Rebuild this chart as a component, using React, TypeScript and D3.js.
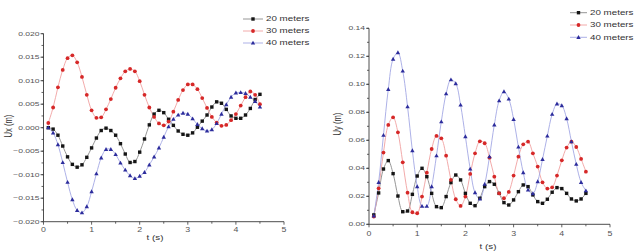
import { useEffect, useRef } from 'react';
import * as d3 from 'd3';

const tVals = [0.1,0.2,0.3,0.4,0.5,0.6,0.7,0.8,0.9,1.0,1.1,1.2,1.3,1.4,1.5,1.6,1.7,1.8,1.9,2.0,2.1,2.2,2.3,2.4,2.5,2.6,2.7,2.8,2.9,3.0,3.1,3.2,3.3,3.4,3.5,3.6,3.7,3.8,3.9,4.0,4.1,4.2,4.3,4.4,4.5];

const ux20 = [0,-0.0003,-0.0016,-0.0039,-0.0062,-0.0078,-0.0084,-0.0079,-0.0063,-0.0043,-0.0022,-0.0006,-0.0001,-0.0006,-0.0016,-0.0034,-0.0056,-0.0074,-0.0072,-0.0052,-0.0024,0.0006,0.0029,0.0037,0.0032,0.0018,0.0005,-0.0007,-0.0014,-0.0016,-0.0011,0.0001,0.0014,0.0027,0.0044,0.0055,0.0052,0.0039,0.0025,0.002,0.002,0.0027,0.0041,0.006,0.0071];
const ux30 = [0.001,0.0043,0.0086,0.0123,0.0148,0.0154,0.0139,0.0108,0.007,0.0037,0.0021,0.0022,0.0039,0.0061,0.0085,0.0105,0.012,0.0125,0.012,0.0099,0.007,0.0043,0.0023,0.0009,0.0005,0.0013,0.0034,0.0059,0.008,0.0092,0.0092,0.0082,0.0063,0.0042,0.0023,0.0011,0.0004,0.0006,0.0016,0.0029,0.0047,0.0065,0.0077,0.007,0.005];
const ux40 = [0,-0.0011,-0.0036,-0.0074,-0.0116,-0.0153,-0.0176,-0.0181,-0.0168,-0.0136,-0.0098,-0.0064,-0.0046,-0.0046,-0.0057,-0.0075,-0.009,-0.0102,-0.0108,-0.0103,-0.0095,-0.0079,-0.0062,-0.0043,-0.002,0.0002,0.0018,0.0027,0.0031,0.0029,0.0019,0.0007,-0.0002,-0.0007,-0.0004,0.0009,0.0029,0.0049,0.0065,0.0074,0.0075,0.0073,0.0065,0.0056,0.0044];

const uy20 = [0.0067,0.0224,0.0395,0.0455,0.0362,0.0202,0.009,0.0095,0.0214,0.0345,0.04,0.034,0.0221,0.0126,0.0119,0.0198,0.0298,0.0352,0.0317,0.0221,0.015,0.0133,0.0186,0.0269,0.0305,0.0286,0.0221,0.0155,0.0138,0.0174,0.0233,0.0281,0.0269,0.021,0.0162,0.015,0.0179,0.0229,0.0262,0.0255,0.0221,0.0181,0.0167,0.0181,0.0221];
const uy30 = [0.0055,0.0257,0.0512,0.071,0.0764,0.0657,0.0443,0.0226,0.0086,0.0079,0.0198,0.0369,0.0538,0.0631,0.0614,0.049,0.0317,0.0179,0.0131,0.0198,0.036,0.0507,0.0593,0.0579,0.0476,0.034,0.0221,0.0186,0.0231,0.0348,0.0483,0.0571,0.059,0.0507,0.0412,0.03,0.0255,0.0264,0.0348,0.0457,0.0548,0.059,0.0552,0.0467,0.0376];
const uy40 = [0.006,0.03,0.0636,0.0964,0.118,0.1226,0.1095,0.084,0.0526,0.0269,0.0129,0.0129,0.0269,0.049,0.0733,0.0933,0.1033,0.1005,0.0852,0.0626,0.0395,0.0226,0.0181,0.0286,0.0483,0.071,0.0883,0.0948,0.0895,0.075,0.0552,0.0369,0.0245,0.0219,0.0305,0.0464,0.0631,0.0786,0.086,0.0848,0.0755,0.059,0.0429,0.03,0.024];

const seriesNames = ['20 meters', '30 meters', '40 meters'];
const xTicks = [0, 1, 2, 3, 4, 5];
const uxTicks = [-0.02, -0.015, -0.01, -0.005, 0, 0.005, 0.01, 0.015, 0.02];
const uyTicks = [0, 0.02, 0.04, 0.06, 0.08, 0.1, 0.12, 0.14];

const markColors = ['#151515', '#d62828', '#2c2c9c'];
const lineColors = ['#8a8a8a', '#f0a0a0', '#a4a8e4'];
const shapes = ['square', 'circle', 'triangle'];
const SX = 1.4; // the source image is stretched sideways, text follows

function drawMarker(g, shape, x, y, color) {
  if (shape === 'square') {
    g.append('rect').attr('x', x - 1.7).attr('y', y - 1.7).attr('width', 3.4).attr('height', 3.4).attr('fill', color);
  } else if (shape === 'circle') {
    g.append('circle').attr('cx', x).attr('cy', y).attr('r', 1.9).attr('fill', color);
  } else {
    g.append('path').attr('d', `M${x},${y - 2.3}L${x + 2.2},${y + 1.6}L${x - 2.2},${y + 1.6}Z`).attr('fill', color);
  }
}

function stretchedText(g, x, y, txt, size, anchor, fill, rotate = false) {
  return g.append('text')
    .attr('transform', `translate(${x},${y}) scale(${SX},1)${rotate ? ' rotate(-90)' : ''}`)
    .attr('text-anchor', anchor)
    .attr('dominant-baseline', 'central')
    .style('font-family', 'Liberation Sans, Arial, sans-serif')
    .style('font-size', `${size}px`)
    .style('fill', fill)
    .text(txt);
}

function drawPanel(svg, cfg) {
  const { x, y, yTicks, yMinorStep, series, yFmt, yLabel, xLabelPos, yLabelPos, xTickY, legend } = cfg;
  const g = svg.append('g');
  const [x0, x1] = x.range();
  const [y0, y1] = y.range();

  // series lines and markers
  series.forEach((vals, i) => {
    const pts = tVals.map((t, j) => [x(t), y(vals[j])]);
    g.append('path')
      .attr('d', d3.line().curve(d3.curveCatmullRom)(pts))
      .attr('fill', 'none').attr('stroke', lineColors[i]).attr('stroke-width', 0.9);
  });
  series.forEach((vals, i) => {
    tVals.forEach((t, j) => drawMarker(g, shapes[i], x(t), y(vals[j]), markColors[i]));
  });

  // axes
  const axisColor = '#3a3a3a';
  g.append('line').attr('x1', x0).attr('x2', x1).attr('y1', y0).attr('y2', y0).attr('stroke', axisColor).attr('stroke-width', 0.9);
  g.append('line').attr('x1', x0).attr('x2', x0).attr('y1', y0).attr('y2', y1).attr('stroke', axisColor).attr('stroke-width', 0.9);

  d3.range(0, 5.001, 0.5).forEach(v => {
    const major = Math.abs(v - Math.round(v)) < 1e-6;
    g.append('line').attr('x1', x(v)).attr('x2', x(v)).attr('y1', y0).attr('y2', y0 + (major ? 3 : 2))
      .attr('stroke', axisColor).attr('stroke-width', 0.8);
  });
  xTicks.forEach(v => stretchedText(g, x(v), xTickY, String(v), 6.3, 'middle', '#555'));

  const [d0, d1] = y.domain();
  d3.range(d0, d1 + yMinorStep / 2, yMinorStep).forEach(v => {
    g.append('line').attr('x1', x0 - 2).attr('x2', x0).attr('y1', y(v)).attr('y2', y(v))
      .attr('stroke', axisColor).attr('stroke-width', 0.8);
  });
  yTicks.forEach(v => {
    g.append('line').attr('x1', x0 - 3).attr('x2', x0).attr('y1', y(v)).attr('y2', y(v))
      .attr('stroke', axisColor).attr('stroke-width', 0.8);
    stretchedText(g, x0 - 4, y(v), yFmt(v), 6.1, 'end', '#555');
  });

  stretchedText(g, xLabelPos[0], xLabelPos[1], 't (s)', 7, 'middle', '#333');
  stretchedText(g, yLabelPos[0], yLabelPos[1], yLabel, 7.6, 'middle', '#333', true);

  // legend
  seriesNames.forEach((name, i) => {
    const ly = legend.y + i * legend.dy;
    g.append('line').attr('x1', legend.x).attr('x2', legend.x + legend.len).attr('y1', ly).attr('y2', ly)
      .attr('stroke', lineColors[i]).attr('stroke-width', 0.9);
    drawMarker(g, shapes[i], legend.x + legend.len / 2, ly, markColors[i]);
    stretchedText(g, legend.x + legend.len + 3, ly, name, 7, 'start', '#333');
  });
}

export default function App() {
  const ref = useRef(null);

  useEffect(() => {
    const svg = d3.select(ref.current);
    svg.selectAll('*').remove();

    drawPanel(svg, {
      x: d3.scaleLinear().domain([0, 5]).range([43.5, 284]),
      y: d3.scaleLinear().domain([-0.02, 0.02]).range([221.7, 33.7]),
      yTicks: uxTicks,
      yMinorStep: 0.0025,
      series: [ux20, ux30, ux40],
      yFmt: d3.format('.3f'),
      yLabel: 'Ux (m)',
      xTickY: 230,
      xLabelPos: [155, 237.5],
      yLabelPos: [8.5, 126],
      legend: { x: 243, y: 19, dy: 12, len: 20 },
    });

    drawPanel(svg, {
      x: d3.scaleLinear().domain([0, 5]).range([369, 610]),
      y: d3.scaleLinear().domain([0, 0.14]).range([224.3, 28.3]),
      yTicks: uyTicks,
      yMinorStep: 0.01,
      series: [uy20, uy30, uy40],
      yFmt: d3.format('.2f'),
      yLabel: 'Uy (m)',
      xTickY: 234,
      xLabelPos: [488, 247],
      yLabelPos: [338, 124],
      legend: { x: 570, y: 12.7, dy: 12.3, len: 17 },
    });
  }, []);

  return (
    <svg ref={ref} width={634} height={252}
      style={{ position: 'absolute', left: 0, top: 0, background: '#fff' }} />
  );
}
